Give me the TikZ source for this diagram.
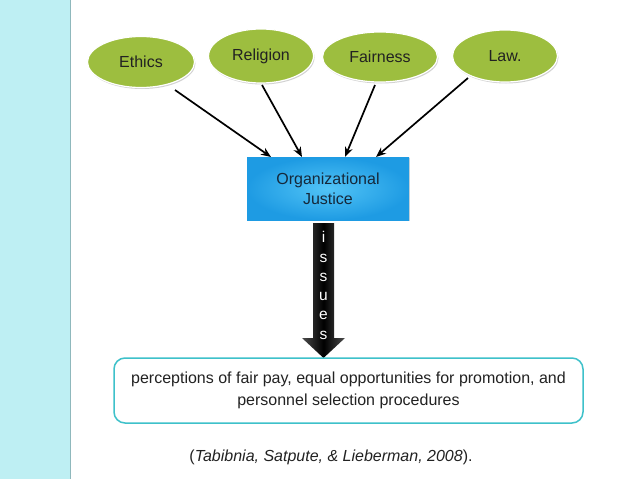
\documentclass[tikz,border=0pt]{standalone}
\usepackage{fontspec}
\setmainfont{Liberation Sans}
\usetikzlibrary{shapes.geometric,arrows.meta,shadows}
\definecolor{stripcyan}{HTML}{BEEFF3}
\definecolor{stripline}{HTML}{8FB8BC}
\definecolor{leafgreen}{HTML}{9DBE3F}
\definecolor{boxblue}{HTML}{1E9BE3}
\definecolor{boxblueinner}{HTML}{52C4F6}
\definecolor{tealline}{HTML}{3EC1CA}
\definecolor{textdark}{HTML}{222222}
\definecolor{justicetext}{HTML}{15283A}
\tikzset{
  txt/.style={font=\fontsize{16}{19}\selectfont, text=textdark},
  leaf/.style={ellipse, txt, fill=leafgreen, draw=white, line width=1.2pt,
    minimum width=107pt, minimum height=51pt, inner sep=0pt,
    drop shadow={shadow xshift=1pt, shadow yshift=-1.5pt, opacity=0.35}},
  feed/.style={draw=black, line width=1.7pt, -{Stealth[length=10pt,width=8pt]}},
}
\begin{document}
\begin{tikzpicture}[x=1pt,y=-1pt]
\useasboundingbox (0,0) rectangle (638,479);
\fill[white] (0,0) rectangle (638,479);
% left strip
\fill[stripcyan] (0,0) rectangle (70,479);
\draw[stripline, line width=1.5pt] (70.5,0) -- (70.5,479);

% ellipses
\node[leaf, minimum width=107pt, minimum height=51pt] (ethics) at (141,62) {Ethics};
\node[leaf, minimum width=105pt, minimum height=54pt] (religion) at (261,56) {Religion};
\node[leaf, minimum width=115pt, minimum height=50pt] (fairness) at (380,57) {Fairness};
\node[leaf, minimum width=105pt, minimum height=52pt] (law) at (505,56) {Law.};

% central box
\node[rectangle, inner color=boxblueinner, outer color=boxblue,
  minimum width=162pt, minimum height=63pt, align=center,
  font=\fontsize{16}{20}\selectfont, text=justicetext,
  drop shadow={shadow xshift=0.8pt, shadow yshift=-1pt, opacity=0.3}]
  (justice) at (328,188.5) {Organizational\\Justice};

% feeding arrows
\coordinate (sE) at (175,90);
\coordinate (sR) at (262,85);
\coordinate (sF) at (375,85);
\coordinate (sL) at (468,78);
\coordinate (jE) at (271,157);
\coordinate (jR) at (302,157);
\coordinate (jF) at (345,157);
\coordinate (jL) at (376,157);
\draw[feed] (sE) -- (jE);
\draw[feed] (sR) -- (jR);
\draw[feed] (sF) -- (jF);
\draw[feed] (sL) -- (jL);

% big arrow
\shade[left color=gray!60!black, right color=gray!60!black, middle color=black]
  (313,223) -- (334,223) -- (334,338) -- (345,338) -- (323.5,358)
  -- (302,338) -- (313,338) -- cycle;
\node[txt, text=white, align=center, font=\fontsize{15.5}{19.3}\selectfont, anchor=north]
  (issues) at (323.5,228) {i\\s\\s\\u\\e\\s};

% bottom box
\node[draw=tealline, line width=1.5pt, rounded corners=11pt, fill=white,
  minimum width=469pt, minimum height=65pt, align=center, txt,
  font=\fontsize{16}{22}\selectfont]
  (issuebox) at (348.5,390.5)
  {perceptions of fair pay, equal opportunities for promotion, and\\personnel selection procedures};

% citation
\node[txt] (cite) at (331,457) {(\textit{Tabibnia, Satpute, \& Lieberman, 2008}).};
\end{tikzpicture}
\end{document}
